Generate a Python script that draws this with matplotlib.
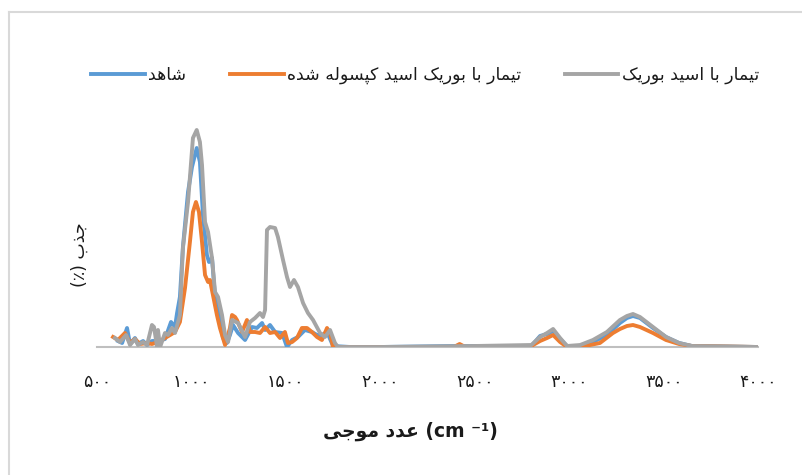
import matplotlib
matplotlib.use('Agg')
import matplotlib.pyplot as plt
from matplotlib.lines import Line2D
from matplotlib.ticker import FixedLocator, FuncFormatter

# داده ها (عدد موجی و جذب)
blue_x = [611, 633, 659, 675, 701, 717, 744, 765, 791, 823, 860, 892, 913, 924, 939, 955, 982, 1003, 1028, 1045,
          1061, 1082, 1093, 1109, 1125, 1141, 1167, 1188, 1204, 1220, 1247, 1284, 1321, 1347, 1374, 1390, 1416, 1443,
          1480, 1506, 1533, 1564, 1601, 1638, 1665, 1691, 1718, 1750, 1840, 2000, 2400, 2800, 2846, 2883, 2915, 2952,
          2989, 3058, 3126, 3200, 3269, 3306, 3338, 3375, 3444, 3513, 3582, 3650, 4000]
blue_y = [0.6, 0.4, 1.9, 0.3, 0.9, 0.3, 0.6, 0.2, 0.6, 0.6, 0.8, 2.5, 2.0, 3.4, 5.0, 10.0, 15.5, 18.0, 19.9, 18.5,
          13.2, 9.2, 8.5, 8.9, 5.0, 3.9, 0.9, 0.4, 1.2, 2.2, 1.4, 0.7, 2.0, 1.9, 2.4, 1.7, 2.2, 1.5,
          1.4, 0.0, 0.7, 1.0, 1.7, 1.5, 1.2, 1.2, 1.5, 0.1, 0.0, 0.0, 0.1, 0.1, 1.1, 1.3, 1.6, 0.8,
          0.1, 0.1, 0.5, 1.2, 2.4, 2.9, 3.1, 2.9, 1.9, 1.0, 0.4, 0.1, 0.0]

orange_x = [585, 611, 648, 675, 701, 728, 765, 791, 823, 860, 887, 913, 939, 966, 992, 1008, 1024, 1040, 1056, 1072,
            1088, 1098, 1114, 1135, 1151, 1178, 1204, 1215, 1231, 1241, 1268, 1294, 1310, 1337, 1363, 1390, 1416, 1443,
            1469, 1495, 1511, 1533, 1559, 1585, 1612, 1638, 1665, 1691, 1718, 1734, 1750, 1840, 2390, 2420, 2450, 2800,
            2846, 2883, 2915, 2952, 2989, 3058, 3163, 3232, 3269, 3306, 3338, 3375, 3444, 3513, 3582, 3650, 4000]
orange_y = [1.0, 0.7, 1.4, 0.4, 0.8, 0.3, 0.4, 0.3, 0.5, 0.9, 1.2, 1.5, 2.5, 5.9, 10.5, 13.5, 14.5, 13.5, 10.5, 7.2,
            6.5, 6.7, 5.2, 3.2, 1.9, 0.2, 1.9, 3.2, 3.0, 2.7, 1.5, 2.7, 1.5, 1.5, 1.4, 2.0, 1.4, 1.5,
            0.9, 1.5, 0.4, 0.5, 0.9, 1.9, 1.9, 1.5, 1.0, 0.7, 1.9, 1.4, 0.0, 0.0, 0.0, 0.3, 0.0, 0.1,
            0.6, 0.9, 1.2, 0.5, 0.0, 0.0, 0.4, 1.4, 1.8, 2.1, 2.2, 2.0, 1.4, 0.7, 0.3, 0.1, 0.0]

gray_x = [595, 622, 654, 675, 701, 717, 744, 765, 791, 802, 818, 823, 834, 860, 876, 897, 913, 929, 939, 955,
          982, 1008, 1028, 1045, 1056, 1072, 1088, 1109, 1125, 1141, 1162, 1178, 1194, 1215, 1247, 1284, 1310, 1337,
          1363, 1379, 1390, 1400, 1416, 1443, 1458, 1485, 1506, 1522, 1543, 1564, 1591, 1617, 1644, 1681, 1707, 1734,
          1760, 1776, 1840, 2000, 2500, 2800, 2846, 2883, 2915, 2952, 2989, 3058, 3126, 3200, 3269, 3306, 3338, 3375,
          3444, 3513, 3582, 3650, 4000]
gray_y = [0.9, 0.5, 1.2, 0.2, 0.8, 0.2, 0.5, 0.2, 2.2, 2.0, 0.0, 1.7, 0.0, 1.4, 1.2, 1.9, 1.4, 2.5, 3.2, 9.9,
          14.5, 20.9, 21.7, 20.5, 18.2, 12.5, 11.5, 8.9, 5.5, 5.0, 3.2, 1.2, 0.5, 2.7, 2.4, 1.0, 2.5, 2.9,
          3.4, 3.0, 3.7, 11.7, 12.0, 11.9, 11.0, 8.7, 7.0, 6.0, 6.7, 6.0, 4.4, 3.4, 2.7, 1.4, 1.0, 1.7,
          0.4, 0.0, 0.0, 0.0, 0.1, 0.2, 1.0, 1.4, 1.8, 0.9, 0.1, 0.2, 0.7, 1.5, 2.7, 3.1, 3.3, 3.0,
          2.0, 1.0, 0.4, 0.1, 0.0]

labels = ['شاهد', 'تیمار با بوریک اسید کپسوله شده', 'تیمار با اسید بوریک']
x_ticks = [500, 1000, 1500, 2000, 2500, 3000, 3500, 4000]

# شکل دهی حروف فارسی (matplotlib خودش راست به چپ نمی نویسد)
# isolated, final, initial, medial
FORMS = {
    'ا': ('\uFE8D', '\uFE8E', None, None),
    'ب': ('\uFE8F', '\uFE90', '\uFE91', '\uFE92'),
    'پ': ('\uFB56', '\uFB57', '\uFB58', '\uFB59'),
    'ت': ('\uFE95', '\uFE96', '\uFE97', '\uFE98'),
    'ج': ('\uFE9D', '\uFE9E', '\uFE9F', '\uFEA0'),
    'د': ('\uFEA9', '\uFEAA', None, None),
    'ذ': ('\uFEAB', '\uFEAC', None, None),
    'ر': ('\uFEAD', '\uFEAE', None, None),
    'س': ('\uFEB1', '\uFEB2', '\uFEB3', '\uFEB4'),
    'ش': ('\uFEB5', '\uFEB6', '\uFEB7', '\uFEB8'),
    'ع': ('\uFEC9', '\uFECA', '\uFECB', '\uFECC'),
    'ک': ('\uFB8E', '\uFB8F', '\uFB90', '\uFB91'),
    'ل': ('\uFEDD', '\uFEDE', '\uFEDF', '\uFEE0'),
    'م': ('\uFEE1', '\uFEE2', '\uFEE3', '\uFEE4'),
    'ن': ('\uFEE5', '\uFEE6', '\uFEE7', '\uFEE8'),
    'ه': ('\uFEE9', '\uFEEA', '\uFEEB', '\uFEEC'),
    'و': ('\uFEED', '\uFEEE', None, None),
    'ی': ('\uFBFC', '\uFBFD', '\uFBFE', '\uFBFF'),
}
MIRROR = {'(': ')', ')': '('}


def fa(text):
    out = []
    for i, ch in enumerate(text):
        if ch not in FORMS:
            out.append(MIRROR.get(ch, ch))
            continue
        prev = text[i - 1] if i > 0 else ''
        nxt = text[i + 1] if i + 1 < len(text) else ''
        join_prev = prev in FORMS and FORMS[prev][2] is not None
        join_next = nxt in FORMS and FORMS[ch][2] is not None
        iso, fin, ini, med = FORMS[ch]
        if join_prev and join_next:
            out.append(med)
        elif join_prev:
            out.append(fin)
        elif join_next:
            out.append(ini)
        else:
            out.append(iso)
    return ''.join(out)[::-1]


def fa_digits(v, pos=None):
    return ''.join('۰۱۲۳۴۵۶۷۸۹'[int(c)] for c in str(int(v)))


plt.rcParams['font.family'] = ['DejaVu Sans']

fig = plt.figure(figsize=(8.03, 4.75), dpi=100)
ax = fig.add_axes([97 / 803, 1 - 347 / 475, 661 / 803, 247 / 475])

ax.plot(blue_x, blue_y, color='#5B9BD5', lw=2.8, solid_joinstyle='round', label=fa(labels[0]))
ax.plot(orange_x, orange_y, color='#ED7D31', lw=2.8, solid_joinstyle='round', label=fa(labels[1]))
ax.plot(gray_x, gray_y, color='#A5A5A5', lw=2.8, solid_joinstyle='round', label=fa(labels[2]))

ax.set_xlim(500, 4000)
ax.set_ylim(0, 24.7)
ax.xaxis.set_major_locator(FixedLocator(x_ticks))
ax.xaxis.set_major_formatter(FuncFormatter(fa_digits))
ax.tick_params(axis='x', length=0, pad=19, labelsize=12.5, labelcolor='#1a1a1a')
ax.set_yticks([])
for s in ['top', 'right', 'left']:
    ax.spines[s].set_visible(False)
ax.spines['bottom'].set_color('#BFBFBF')
ax.spines['bottom'].set_linewidth(1.5)
ax.spines['bottom'].set_zorder(0)

# عنوان محورها
fig.text(80 / 803, 1 - 255 / 475, '(٪) ' + fa('جذب'), rotation=90, ha='center', va='center',
         fontsize=12.5, color='#1a1a1a')
fig.text(410 / 803, 1 - 431 / 475, fa('عدد موجی') + ' (cm ⁻¹)', ha='center', va='center',
         fontsize=13.5, fontweight='bold', color='#1a1a1a')

leg = ax.legend(loc='center left', bbox_to_anchor=(91 / 803, 1 - 75 / 475), bbox_transform=fig.transFigure,
                ncol=3, frameon=False, fontsize=12.5, handlelength=3.1, handletextpad=0.2,
                columnspacing=2.5, borderaxespad=0, borderpad=0)
for t in leg.get_texts():
    t.set_color('#1a1a1a')

# کادر نمودار
fig.add_artist(Line2D([9 / 803, 1], [1 - 12 / 475, 1 - 12 / 475], transform=fig.transFigure, color='#D9D9D9', lw=1.5))
fig.add_artist(Line2D([9 / 803, 9 / 803], [0, 1 - 12 / 475], transform=fig.transFigure, color='#D9D9D9', lw=1.5))

fig.savefig('out.png', dpi=100)
